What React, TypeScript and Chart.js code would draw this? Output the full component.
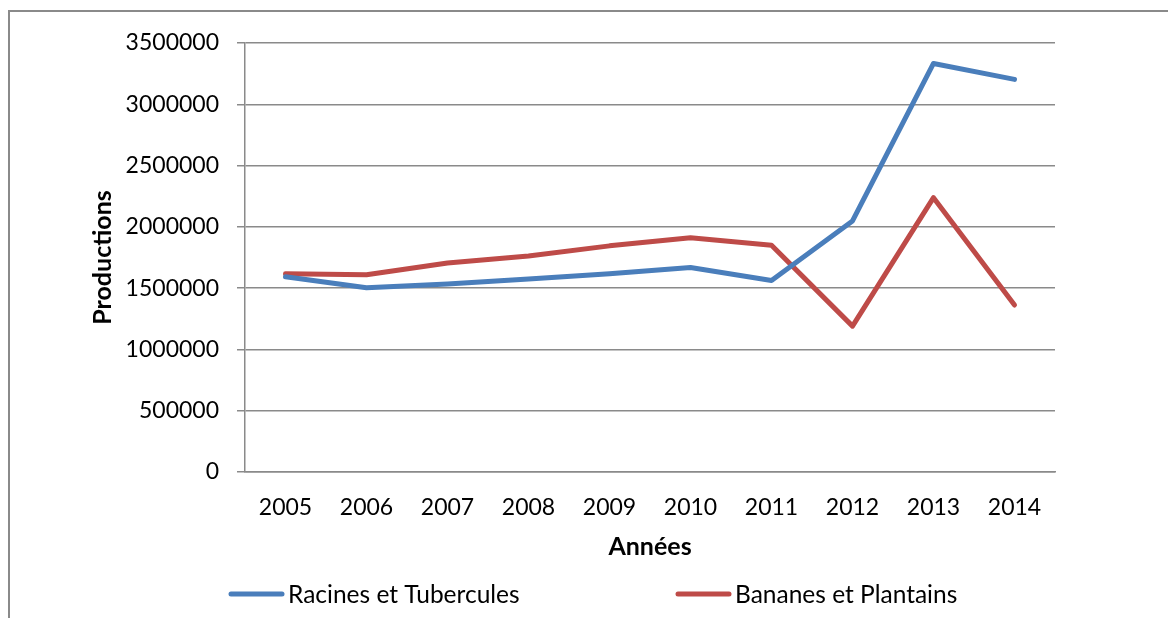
import { useEffect, useRef } from "react";
import { Chart, registerables } from "chart.js";

Chart.register(...registerables);

const years = ["2005", "2006", "2007", "2008", "2009", "2010", "2011", "2012", "2013", "2014"];
const racinesEtTubercules = [1593000, 1503000, 1533000, 1574000, 1617000, 1668000, 1563000, 2048000, 3333000, 3203000];
const bananesEtPlantains = [1618000, 1610000, 1705000, 1762000, 1845000, 1912000, 1850000, 1190000, 2238000, 1362000];
const seriesLabels = ["Racines et Tubercules", "Bananes et Plantains"];
const seriesColors = ["#4A7EBB", "#BE4B48"];
const yMin = 0;
const yMax = 3500000;
const yStep = 500000;
const xTitle = "Années";
const yTitle = "Productions";

const FONT = "Lato, 'Open Sans', sans-serif";
const GRID = "#8a8a8a";

const legendPlugin = {
  id: "customLegend",
  afterDraw(chart: any) {
    const ctx = chart.ctx;
    const starts = [229, 676];
    const y = 594;
    ctx.save();
    chart.data.datasets.forEach((ds: any, i: number) => {
      const x0 = starts[i];
      ctx.strokeStyle = ds.borderColor;
      ctx.lineWidth = 5;
      ctx.lineCap = "round";
      ctx.beginPath();
      ctx.moveTo(x0 + 2, y);
      ctx.lineTo(x0 + 53, y);
      ctx.stroke();
      ctx.fillStyle = "#000";
      ctx.font = `24.5px ${FONT}`;
      ctx.textAlign = "left";
      ctx.textBaseline = "middle";
      ctx.fillText(ds.label, x0 + 59, y + 1);
    });
    ctx.restore();
  },
};

export default function App() {
  const ref = useRef<HTMLCanvasElement | null>(null);

  useEffect(() => {
    if (!ref.current) return;
    const chart = new Chart(ref.current, {
      type: "line",
      data: {
        labels: years,
        datasets: [
          {
            label: seriesLabels[0],
            data: racinesEtTubercules,
            borderColor: seriesColors[0],
            backgroundColor: seriesColors[0],
            borderWidth: 5,
            pointRadius: 0,
            tension: 0,
            borderJoinStyle: "round",
            borderCapStyle: "round",
          },
          {
            label: seriesLabels[1],
            data: bananesEtPlantains,
            borderColor: seriesColors[1],
            backgroundColor: seriesColors[1],
            borderWidth: 5,
            pointRadius: 0,
            tension: 0,
            borderJoinStyle: "round",
            borderCapStyle: "round",
          },
        ],
      },
      options: {
        responsive: false,
        animation: false,
        layout: { padding: { left: 0, right: 113, top: 43, bottom: 56 } },
        plugins: {
          legend: { display: false },
          tooltip: { enabled: false },
        },
        scales: {
          x: {
            type: "category",
            offset: true,
            grid: { display: false, drawTicks: false },
            border: { display: true, color: GRID, width: 1.5 },
            ticks: {
              color: "#000",
              font: { family: FONT, size: 23 },
              padding: 22,
              maxRotation: 0,
              autoSkip: false,
            },
            title: {
              display: true,
              text: xTitle,
              color: "#000",
              font: { family: FONT, size: 25, weight: "bold" },
              padding: { top: 0, bottom: 0 },
            },
            afterFit(scale: any) {
              scale.height = 90;
            },
          },
          y: {
            min: yMin,
            max: yMax,
            grid: { color: GRID, lineWidth: 1.5, tickLength: 8, drawTicks: true },
            border: { display: true, color: GRID, width: 1.5 },
            ticks: {
              stepSize: yStep,
              color: "#000",
              font: { family: FONT, size: 23 },
              padding: 18,
              callback: (v: any) => String(v),
            },
            title: {
              display: true,
              text: yTitle,
              color: "#000",
              font: { family: FONT, size: 25, weight: "bold" },
              padding: { top: 88, bottom: 0 },
            },
            afterFit(scale: any) {
              scale.width = 245;
            },
          },
        },
      },
      plugins: [legendPlugin],
    });
    return () => chart.destroy();
  }, []);

  return (
    <div
      style={{
        position: "fixed",
        left: 0,
        top: 0,
        width: 1168,
        height: 618,
        overflow: "hidden",
        background: "#fff",
      }}
    >
      <div
        style={{
          position: "absolute",
          left: 8,
          top: 10,
          width: 1400,
          height: 900,
          borderLeft: "2px solid #8a8a8a",
          borderTop: "2px solid #8a8a8a",
        }}
      />
      <canvas
        ref={ref}
        width={1168}
        height={618}
        style={{ position: "absolute", left: 0, top: 0, width: 1168, height: 618 }}
      />
    </div>
  );
}
